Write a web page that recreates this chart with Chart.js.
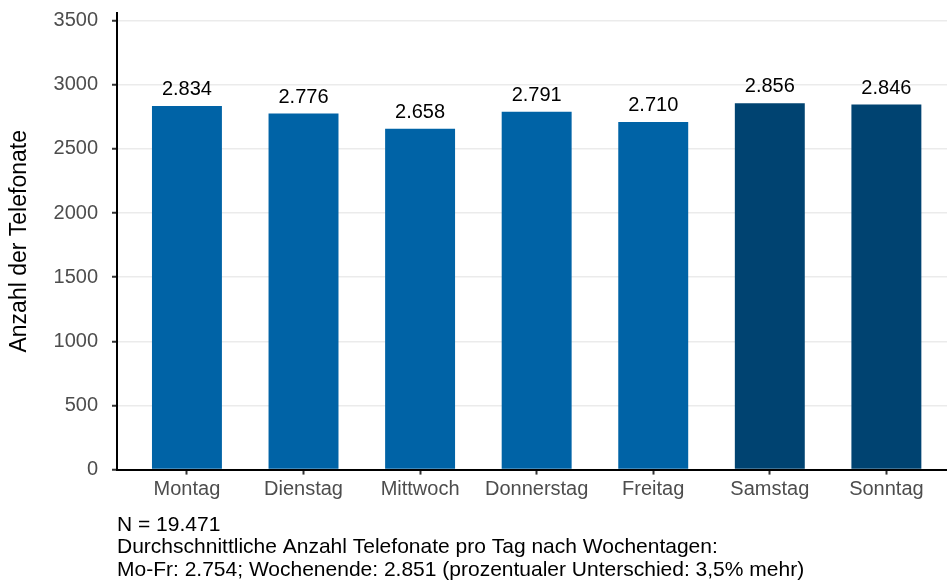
<!DOCTYPE html>
<html>
<head>
<meta charset="utf-8">
<script src="https://cdn.jsdelivr.net/npm/chart.js@4.4.0/dist/chart.umd.min.js"></script>
<style>
  html, body { margin: 0; padding: 0; background: #fff; overflow: hidden; }
  #wrap { width: 947px; height: 581px; }
</style>
</head>
<body>
<div id="wrap"><canvas id="myChart"></canvas></div>
<script>
const days = ["Montag", "Dienstag", "Mittwoch", "Donnerstag", "Freitag", "Samstag", "Sonntag"];
const calls = [2834, 2776, 2658, 2791, 2710, 2856, 2846];
const dayType = ["Werktag", "Werktag", "Werktag", "Werktag", "Werktag", "Wochenende", "Wochenende"];
const yTicks = [0, 500, 1000, 1500, 2000, 2500, 3000, 3500];
const footnote = [
  "N = 19.471",
  "Durchschnittliche Anzahl Telefonate pro Tag nach Wochentagen:",
  "Mo-Fr: 2.754; Wochenende: 2.851 (prozentualer Unterschied: 3,5% mehr)"
];

const FONT = "'Liberation Sans', Arial, sans-serif";
const typeColors = { Werktag: "#0063a6", Wochenende: "#004371" };

// German thousands separator
const fmt = v => String(v).replace(/\B(?=(\d{3})+(?!\d))/g, ".");

const valueLabels = {
  id: "valueLabels",
  afterDatasetsDraw(chart) {
    const ctx = chart.ctx;
    const meta = chart.getDatasetMeta(0);
    ctx.save();
    ctx.font = "20px " + FONT;
    ctx.fillStyle = "#000";
    ctx.textAlign = "center";
    ctx.textBaseline = "alphabetic";
    meta.data.forEach((bar, i) => {
      ctx.fillText(fmt(calls[i]), bar.x, bar.y - 11);
    });
    ctx.restore();
  }
};

var ctx = document.getElementById("myChart").getContext("2d");
var chart = new Chart(ctx, {
  type: "bar",
  data: {
    datasets: [
      {
        label: "Anzahl der Telefonate",
        data: calls.map((v, i) => ({ x: i, y: v })),
        backgroundColor: dayType.map(t => typeColors[t]),
        categoryPercentage: 1,
        barPercentage: 0.6
      }
    ]
  },
  options: {
    responsive: true,
    maintainAspectRatio: false,
    animation: false,
    layout: { padding: { top: 13, right: 0, bottom: 0, left: 0 } },
    plugins: {
      legend: { display: false },
      tooltip: { enabled: false },
      title: {
        display: true,
        text: footnote,
        position: "bottom",
        align: "start",
        fullSize: false,
        color: "#000",
        font: { family: FONT, size: 21, weight: "normal", lineHeight: 1.07 },
        padding: { top: 4, bottom: 0 }
      }
    },
    scales: {
      x: {
        type: "linear",
        offset: false,
        min: -0.6,
        max: 6.52,
        afterBuildTicks: scale => {
          scale.ticks = days.map((d, i) => ({ value: i }));
        },
        afterFit: scale => {
          scale.height = 40;
          scale.paddingLeft = 0;
          scale.paddingRight = 0;
        },
        ticks: {
          callback: v => days[v],
          color: "#4d4d4d",
          font: { family: FONT, size: 20 },
          padding: 3,
          maxRotation: 0,
          autoSkip: false
        },
        grid: { offset: false, drawOnChartArea: false, tickColor: "#333", tickWidth: 2, tickLength: 5 },
        border: { color: "#000", width: 2 }
      },
      y: {
        min: 0,
        max: 3560,
        afterBuildTicks: scale => {
          scale.ticks = yTicks.map(v => ({ value: v }));
        },
        afterFit: scale => {
          scale.width = 117;
          scale.paddingTop = 0;
          scale.paddingBottom = 0;
        },
        ticks: {
          callback: v => String(v),
          color: "#4d4d4d",
          font: { family: FONT, size: 20 },
          padding: 14
        },
        grid: { color: "#ebebeb", lineWidth: 1.5, tickColor: "#333", tickWidth: 2, tickLength: 5 },
        border: { color: "#000", width: 2 },
        title: {
          display: true,
          text: "Anzahl der Telefonate",
          color: "#000",
          font: { family: FONT, size: 23 },
          padding: { top: 6, bottom: 0 }
        }
      }
    }
  },
  plugins: [valueLabels]
});
</script>
</body>
</html>
